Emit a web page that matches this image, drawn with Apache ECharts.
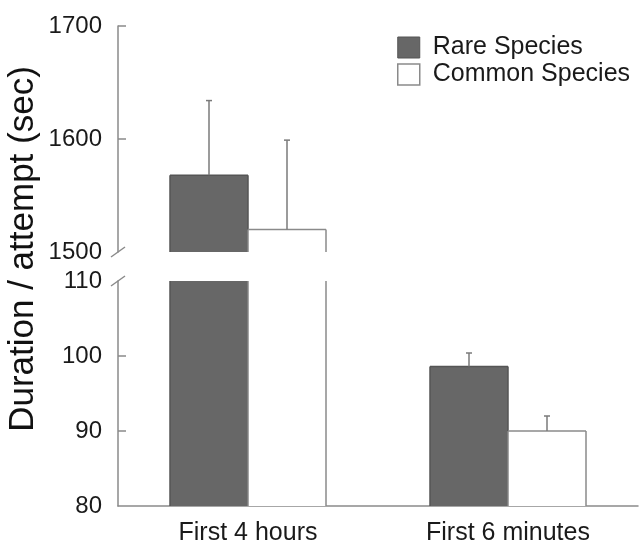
<!DOCTYPE html>
<html><head><meta charset="utf-8">
<script src="https://cdn.jsdelivr.net/npm/echarts@6/dist/echarts.min.js"></script>
<style>html,body{margin:0;padding:0;background:#fff}#c{width:643px;height:546px}</style>
</head><body><div id="c"></div>
<script>
const categories = ['First 4 hours', 'First 6 minutes'];
const rareMeans = [1568, 98.6];
const rareErrors = [66, 1.8];
const commonMeans = [1520, 90.0];
const commonErrors = [79, 2.0];
const upperTicks = [1500, 1600, 1700];
const lowerTicks = [80, 90, 100, 110];
const breakValues = [1500, 110];
const seriesNames = ['Rare Species', 'Common Species'];
const yTitle = 'Duration / attempt (sec)';

const FONT = '"Liberation Sans", Arial, Helvetica, sans-serif';
const RARE_FILL = '#676767', RARE_EDGE = '#555555', EDGE = '#8a8a8a', AXIS = '#8a8a8a', ERR = '#7a7a7a';
const BAR_FRAC = 0.3;

function makeRender(side, fill, edge) {
  return function (params, api) {
    const cs = params.coordSys;
    const top = cs.y, bottom = cs.y + cs.height;
    const idx = api.value(0), v = api.value(1), err = api.value(2);
    const center = api.coord([idx, v])[0];
    const bw = api.size([1, 0])[0] * BAR_FRAC;
    const x0 = side === 0 ? center - bw : center;
    const x1 = side === 0 ? center : center + bw;
    const yv = api.coord([idx, v])[1];
    const yt = Math.max(yv, top);
    if (yt >= bottom) return null;
    const children = [];
    children.push({type: 'rect', shape: {x: x0, y: yt, width: x1 - x0, height: bottom - yt}, style: {fill: fill, stroke: null}});
    const ls = {stroke: edge, lineWidth: 1.5};
    children.push({type: 'line', shape: {x1: x0, y1: yt, x2: x0, y2: bottom}, style: ls});
    children.push({type: 'line', shape: {x1: x1, y1: yt, x2: x1, y2: bottom}, style: ls});
    if (yv >= top) {
      children.push({type: 'line', shape: {x1: x0, y1: yv, x2: x1, y2: yv}, style: ls});
      const ye = api.coord([idx, v + err])[1];
      if (ye >= top) {
        const xc = (x0 + x1) / 2;
        const es = {stroke: ERR, lineWidth: 1.5};
        children.push({type: 'line', shape: {x1: xc, y1: yv, x2: xc, y2: ye}, style: es});
        children.push({type: 'line', shape: {x1: xc - 3, y1: ye, x2: xc + 3, y2: ye}, style: es});
      }
    }
    return {type: 'group', children: children};
  };
}

function breakRender(params, api) {
  const cs = params.coordSys;
  const y = api.coord([0, api.value(1)])[1];
  const x = cs.x;
  return {type: 'line', shape: {x1: x - 7, y1: y + 5, x2: x + 7, y2: y - 5}, style: {stroke: AXIS, lineWidth: 1.5}};
}

const rareData = categories.map((c, i) => [i, rareMeans[i], rareErrors[i]]);
const commonData = categories.map((c, i) => [i, commonMeans[i], commonErrors[i]]);

const series = [];
[0, 1].forEach(g => {
  series.push({type: 'custom', name: seriesNames[0], xAxisIndex: g, yAxisIndex: g, data: rareData,
    renderItem: makeRender(0, RARE_FILL, RARE_EDGE), encode: {x: 0, y: 1}, itemStyle: {color: RARE_FILL}, silent: true});
  series.push({type: 'custom', name: seriesNames[1], xAxisIndex: g, yAxisIndex: g, data: commonData,
    renderItem: makeRender(1, '#ffffff', EDGE), encode: {x: 0, y: 1}, itemStyle: {color: '#ffffff'}, silent: true});
  series.push({type: 'custom', xAxisIndex: g, yAxisIndex: g, data: [[0, breakValues[g]]],
    renderItem: breakRender, encode: {x: 0, y: 1}, silent: true, z: 5});
});

const yLabel = {fontFamily: FONT, fontSize: 24, color: '#1a1a1a', margin: 16, formatter: v => String(v)};

const option = {
  backgroundColor: '#ffffff',
  animation: false,
  grid: [
    {left: 118, top: 26, width: 520, height: 226},
    {left: 118, top: 281, width: 520, height: 226}
  ],
  xAxis: [
    {type: 'category', gridIndex: 0, data: categories, show: false, boundaryGap: true},
    {type: 'category', gridIndex: 1, data: categories, boundaryGap: true,
      axisLine: {lineStyle: {color: AXIS, width: 1.5}}, axisTick: {show: false},
      axisLabel: {fontFamily: FONT, fontSize: 25, color: '#1a1a1a', margin: 15}}
  ],
  yAxis: [
    {type: 'value', gridIndex: 0, min: 1500, max: 1700, interval: 100, splitLine: {show: false},
      axisLine: {show: true, lineStyle: {color: AXIS, width: 1.5}},
      axisTick: {show: true, inside: true, length: 8, customValues: [1600, 1700], lineStyle: {color: AXIS, width: 1.5}},
      axisLabel: Object.assign({customValues: upperTicks}, yLabel)},
    {type: 'value', gridIndex: 1, min: 80, max: 110, interval: 10, splitLine: {show: false},
      axisLine: {show: true, lineStyle: {color: AXIS, width: 1.5}},
      axisTick: {show: true, inside: true, length: 8, customValues: [90, 100], lineStyle: {color: AXIS, width: 1.5}},
      axisLabel: Object.assign({customValues: lowerTicks}, yLabel)}
  ],
  legend: {
    orient: 'vertical', left: 397, top: 35, padding: 0, itemWidth: 22, itemHeight: 21, itemGap: 2, icon: 'rect',
    selectedMode: false,
    textStyle: {fontFamily: FONT, fontSize: 25, color: '#1a1a1a', lineHeight: 24, padding: [0, 0, 0, 8]},
    data: [
      {name: seriesNames[0], itemStyle: {color: RARE_FILL, borderColor: RARE_EDGE, borderWidth: 1}},
      {name: seriesNames[1], itemStyle: {color: '#ffffff', borderColor: EDGE, borderWidth: 1.5}}
    ]
  },
  graphic: [{
    type: 'text', x: 23, y: 249, rotation: Math.PI / 2,
    style: {text: yTitle, font: '35px ' + FONT, fill: '#111', textAlign: 'center', textVerticalAlign: 'middle'}
  }],
  series: series
};

const chart = echarts.init(document.getElementById('c'), null, {renderer: 'canvas'});
chart.setOption(option);
</script>
</body></html>
